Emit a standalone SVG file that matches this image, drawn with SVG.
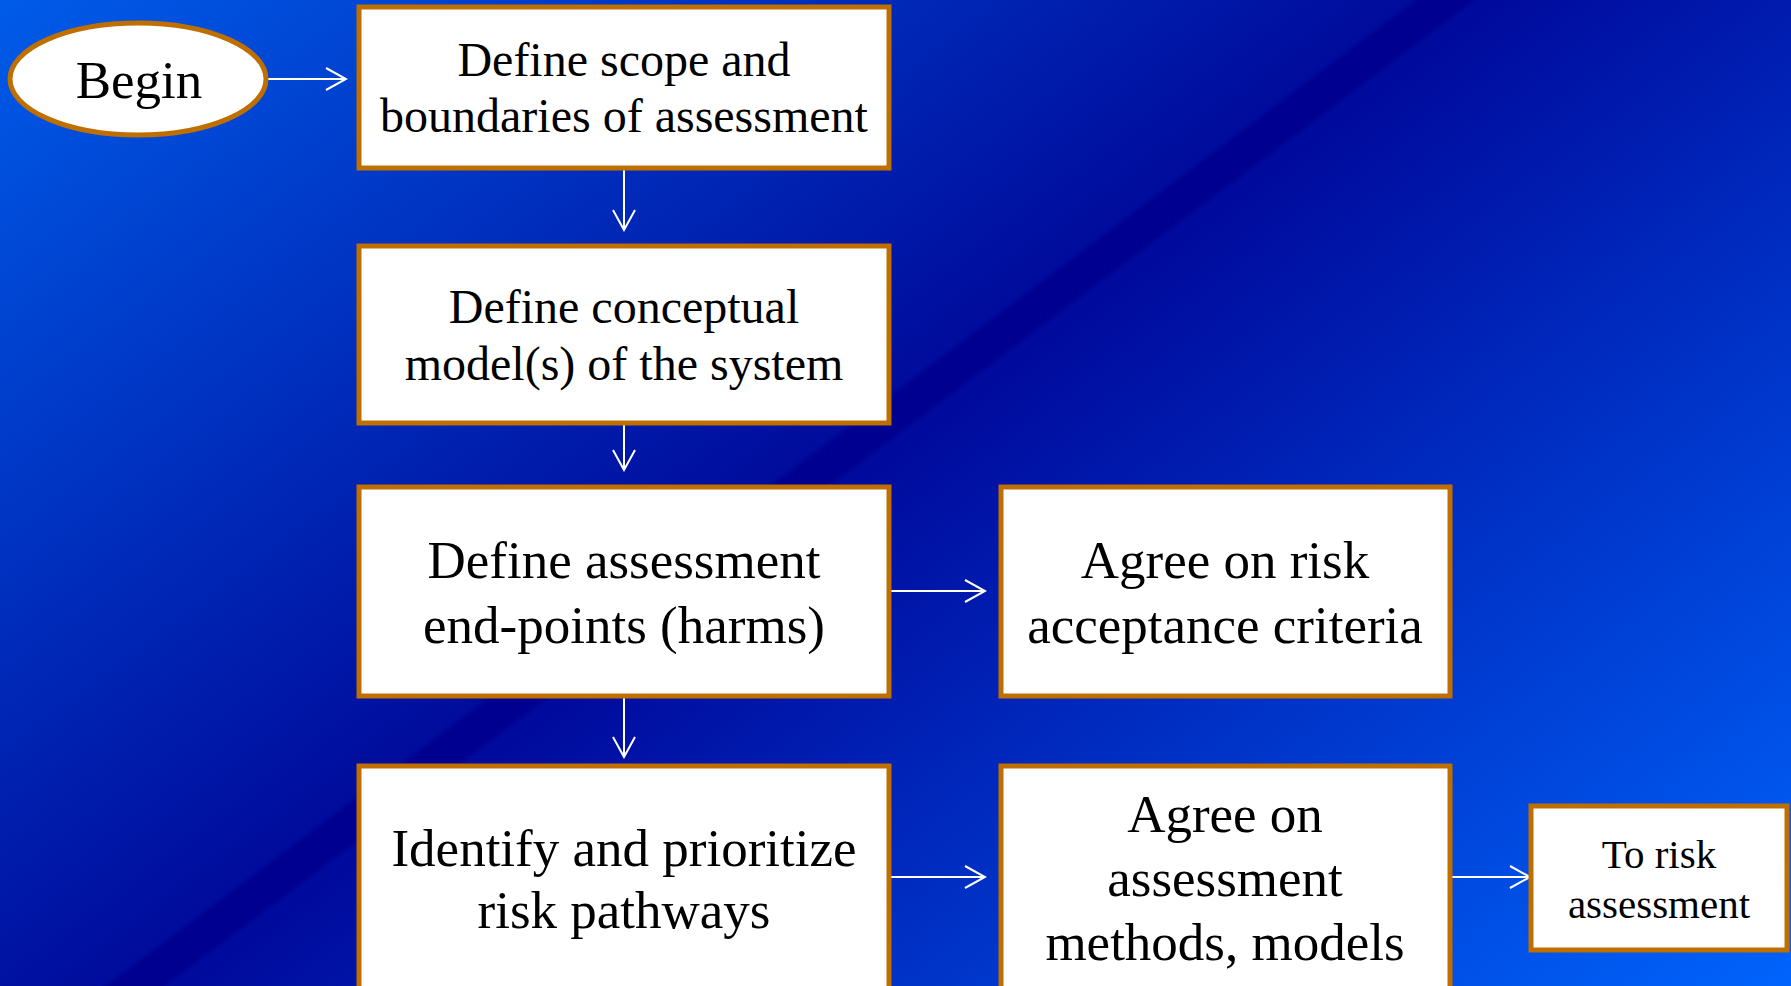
<svg xmlns="http://www.w3.org/2000/svg" width="1791" height="986" viewBox="0 0 1791 986">
  <defs>
    <linearGradient id="bg" gradientUnits="userSpaceOnUse" x1="0" y1="0" x2="1121.6" y2="1490.2">
      <stop offset="0" stop-color="#005ce9"/>
      <stop offset="0.455" stop-color="#000c9c"/>
      <stop offset="0.458" stop-color="#000090"/>
      <stop offset="0.474" stop-color="#000090"/>
      <stop offset="0.477" stop-color="#000a9c"/>
      <stop offset="1" stop-color="#0064fc"/>
    </linearGradient>
    <marker id="arr" viewBox="0 0 24 24" refX="22" refY="12" markerWidth="24" markerHeight="24" markerUnits="userSpaceOnUse" orient="auto">
      <path d="M2,1 L22,12 L2,23" fill="none" stroke="#ffffff" stroke-width="2"/>
    </marker>
    <style>
      .box { fill: #ffffff; stroke: #bf6e00; stroke-width: 5; }
      .t { font-family: "Liberation Serif", "Times New Roman", serif; fill: #000000; text-anchor: middle; }
      .conn { stroke: #ffffff; stroke-width: 2; fill: none; marker-end: url(#arr); }
    </style>
  </defs>
  <rect x="0" y="0" width="1791" height="986" fill="url(#bg)"/>

  <g id="connectors">
    <line class="conn" x1="268" y1="79" x2="346" y2="79"/>
    <line class="conn" x1="624" y1="169" x2="624" y2="230"/>
    <line class="conn" x1="624" y1="423" x2="624" y2="470"/>
    <line class="conn" x1="889" y1="591" x2="985" y2="591"/>
    <line class="conn" x1="624" y1="697" x2="624" y2="757"/>
    <line class="conn" x1="889" y1="877" x2="985" y2="877"/>
    <line class="conn" x1="1451" y1="877" x2="1530" y2="877"/>
  </g>

  <g id="begin">
    <ellipse cx="138" cy="79" rx="128" ry="56" fill="#ffffff" stroke="#bf6e00" stroke-width="5"/>
    <text class="t" x="139" y="98" font-size="53">Begin</text>
  </g>

  <g id="scope">
    <rect class="box" x="359" y="7" width="530" height="161"/>
    <text class="t" x="624" y="76" font-size="48">Define scope and</text>
    <text class="t" x="624" y="132" font-size="48">boundaries of assessment</text>
  </g>

  <g id="conceptual">
    <rect class="box" x="359" y="246" width="530" height="177"/>
    <text class="t" x="624" y="323" font-size="48">Define conceptual</text>
    <text class="t" x="624" y="380" font-size="48">model(s) of the system</text>
  </g>

  <g id="endpoints">
    <rect class="box" x="359" y="487" width="530" height="209"/>
    <text class="t" x="624" y="578" font-size="53">Define assessment</text>
    <text class="t" x="624" y="643" font-size="53">end-points (harms)</text>
  </g>

  <g id="criteria">
    <rect class="box" x="1001" y="487" width="449" height="209"/>
    <text class="t" x="1225" y="578" font-size="53">Agree on risk</text>
    <text class="t" x="1225" y="643" font-size="53">acceptance criteria</text>
  </g>

  <g id="pathways">
    <rect class="box" x="359" y="766" width="530" height="240"/>
    <text class="t" x="624" y="866" font-size="53">Identify and prioritize</text>
    <text class="t" x="624" y="928" font-size="53">risk pathways</text>
  </g>

  <g id="methods">
    <rect class="box" x="1001" y="766" width="449" height="240"/>
    <text class="t" x="1225" y="832" font-size="53">Agree on</text>
    <text class="t" x="1225" y="896" font-size="53">assessment</text>
    <text class="t" x="1225" y="960" font-size="53">methods, models</text>
  </g>

  <g id="to-risk">
    <rect class="box" x="1531" y="806" width="256" height="144"/>
    <text class="t" x="1659" y="868" font-size="41">To risk</text>
    <text class="t" x="1659" y="918" font-size="41">assessment</text>
  </g>
</svg>
